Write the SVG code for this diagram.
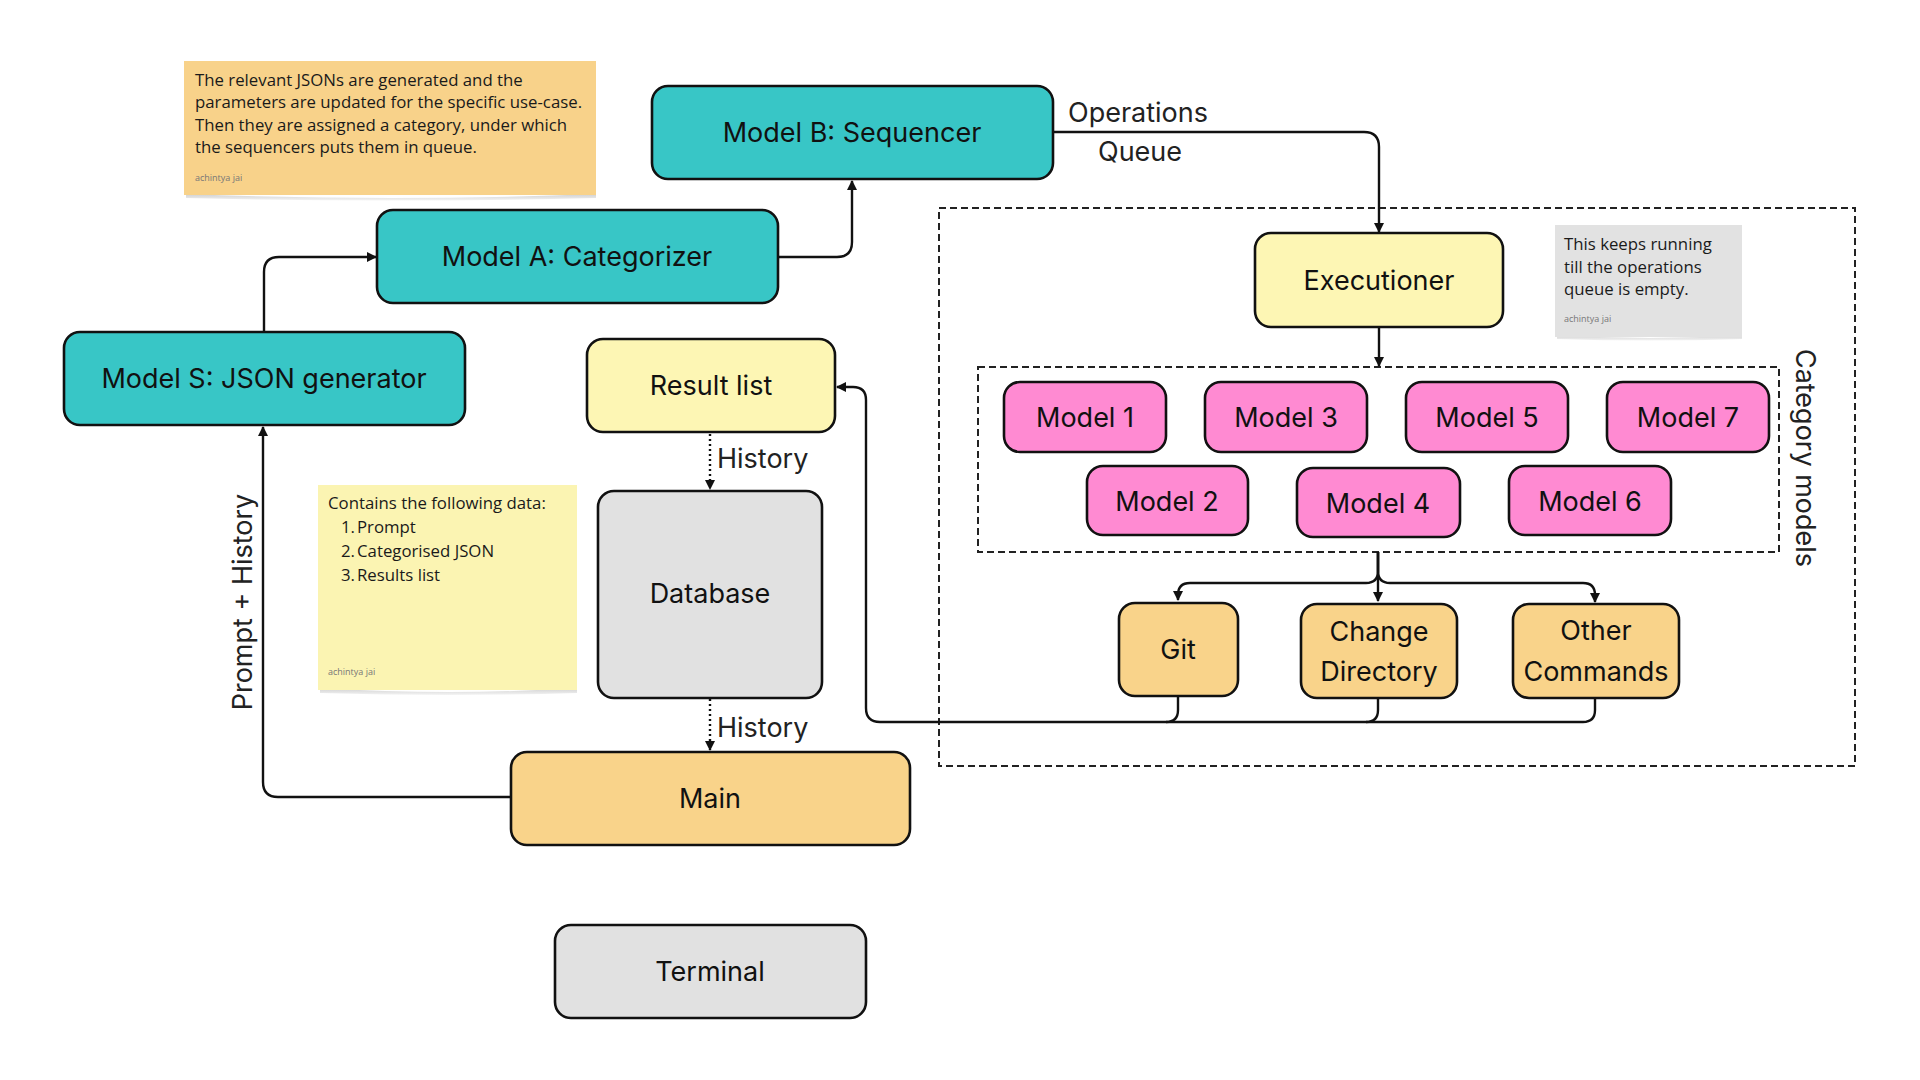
<svg xmlns="http://www.w3.org/2000/svg" width="1920" height="1080" viewBox="0 0 1920 1080">
  <style>
    .node { stroke: #111; stroke-width: 2.6; }
    .teal { fill: #38C6C6; }
    .yel { fill: #FDF6B4; }
    .org { fill: #F9D38A; }
    .pink { fill: #FF8AD2; }
    .grey { fill: #E1E1E1; }
    .lbl { font-family: Inter, "DejaVu Sans", sans-serif; font-size: 27px; fill: #111; text-anchor: middle; }
    .edge-lbl { font-family: Inter, "DejaVu Sans", sans-serif; font-size: 27px; fill: #222; }
    .note { font-family: "Open Sans", "Noto Sans", sans-serif; font-size: 16.8px; fill: #1a1a1a; }
    .sig { font-family: "Open Sans", "Noto Sans", sans-serif; font-size: 9px; fill: #777; }
    .wire { fill: none; stroke: #111; stroke-width: 2.4; }
    .dot { fill: none; stroke: #111; stroke-width: 2.4; stroke-dasharray: 2 3; }
    .frame { fill: none; stroke: #222; stroke-width: 2; stroke-dasharray: 7 4; }
  </style>
  <defs>
    <marker id="arrow" viewBox="0 0 10 10" refX="9" refY="5" markerWidth="10" markerHeight="10" markerUnits="userSpaceOnUse" orient="auto">
      <path d="M0,0 L10,5 L0,10 Z" fill="#111"/>
    </marker>
    <linearGradient id="curl" x1="0" y1="0" x2="0" y2="1">
      <stop offset="0" stop-color="#cfcfcf"/>
      <stop offset="1" stop-color="#f4f4f4"/>
    </linearGradient>
  </defs>

  <rect width="1920" height="1080" fill="#fff"/>

  <!-- dashed group frames -->
  <g id="frames">
    <rect class="frame" x="939" y="208" width="916" height="558"/>
    <rect class="frame" x="978" y="367" width="801" height="185"/>
    <text class="edge-lbl" transform="translate(1796,458) rotate(90)" text-anchor="middle">Category models</text>
  </g>

  <!-- sticky notes -->
  <g id="note-json">
    <path d="M186,194 Q390,202 596,194 L596,198 Q390,203 186,198 Z" fill="url(#curl)"/>
    <rect x="184" y="61" width="412" height="134" fill="#F8D28A"/>
    <text class="note" x="195" y="86">The relevant JSONs are generated and the</text>
    <text class="note" x="195" y="108">parameters are updated for the specific use-case.</text>
    <text class="note" x="195" y="131">Then they are assigned a category, under which</text>
    <text class="note" x="195" y="153">the sequencers puts them in queue.</text>
    <text class="sig" x="195" y="181">achintya jai</text>
  </g>

  <g id="note-data">
    <path d="M320,688 Q450,696 577,688 L577,693 Q450,697 320,693 Z" fill="url(#curl)"/>
    <rect x="318" y="485" width="259" height="205" fill="#FBF4B2"/>
    <text class="note" x="328" y="509">Contains the following data:</text>
    <text class="note" x="341" y="533">1.</text><text class="note" x="357" y="533">Prompt</text>
    <text class="note" x="341" y="557">2.</text><text class="note" x="357" y="557">Categorised JSON</text>
    <text class="note" x="341" y="581">3.</text><text class="note" x="357" y="581">Results list</text>
    <text class="sig" x="328" y="675">achintya jai</text>
  </g>

  <g id="note-loop">
    <path d="M1557,335 Q1650,341 1742,335 L1742,339 Q1650,342 1557,339 Z" fill="url(#curl)"/>
    <rect x="1555" y="225" width="187" height="112" fill="#E2E2E2"/>
    <text class="note" x="1564" y="250">This keeps running</text>
    <text class="note" x="1564" y="273">till the operations</text>
    <text class="note" x="1564" y="295">queue is empty.</text>
    <text class="sig" x="1564" y="322">achintya jai</text>
  </g>

  <!-- connectors -->
  <g id="connectors">
    <path class="wire" d="M511,797 H278 Q263,797 263,782 V427" marker-end="url(#arrow)"/>
    <path class="wire" d="M264,332 V272 Q264,257 279,257 H376" marker-end="url(#arrow)"/>
    <path class="wire" d="M778,257 H837 Q852,257 852,242 V181" marker-end="url(#arrow)"/>
    <path class="wire" d="M1053,132 H1364 Q1379,132 1379,147 V232" marker-end="url(#arrow)"/>
    <path class="wire" d="M1379,327 V366" marker-end="url(#arrow)"/>
    <path class="wire" d="M1378,552 V601" marker-end="url(#arrow)"/>
    <path class="wire" d="M1378,552 V571 Q1378,583 1366,583 H1190 Q1178,583 1178,595 V600" marker-end="url(#arrow)"/>
    <path class="wire" d="M1378,552 V571 Q1378,583 1390,583 H1583 Q1595,583 1595,595 V602" marker-end="url(#arrow)"/>
    <path class="wire" d="M1595,698 V710 Q1595,722 1583,722 H880 Q866,722 866,708 V400 Q866,387 853,387 H837" marker-end="url(#arrow)"/>
    <path class="wire" d="M1378,698 V710 Q1378,722 1366,722"/>
    <path class="wire" d="M1178,696 V710 Q1178,722 1166,722"/>
    <path class="dot" d="M710,434 V489" marker-end="url(#arrow)"/>
    <path class="dot" d="M710,699 V750" marker-end="url(#arrow)"/>
    <text class="edge-lbl" x="1068" y="122">Operations</text>
    <text class="edge-lbl" x="1098" y="161">Queue</text>
    <text class="edge-lbl" x="717" y="468">History</text>
    <text class="edge-lbl" x="717" y="737">History</text>
    <text class="edge-lbl" transform="translate(252,602) rotate(-90)" text-anchor="middle">Prompt + History</text>
  </g>

  <!-- nodes -->
  <g id="model-b">
    <rect class="node teal" x="652" y="86" width="401" height="93" rx="16"/>
    <text class="lbl" x="852" y="142">Model B: Sequencer</text>
  </g>
  <g id="model-a">
    <rect class="node teal" x="377" y="210" width="401" height="93" rx="16"/>
    <text class="lbl" x="577" y="266">Model A: Categorizer</text>
  </g>
  <g id="model-s">
    <rect class="node teal" x="64" y="332" width="401" height="93" rx="16"/>
    <text class="lbl" x="264" y="388">Model S: JSON generator</text>
  </g>
  <g id="result-list">
    <rect class="node yel" x="587" y="339" width="248" height="93" rx="16"/>
    <text class="lbl" x="711" y="395">Result list</text>
  </g>
  <g id="database">
    <rect class="node grey" x="598" y="491" width="224" height="207" rx="16"/>
    <text class="lbl" x="710" y="603">Database</text>
  </g>
  <g id="main">
    <rect class="node org" x="511" y="752" width="399" height="93" rx="16"/>
    <text class="lbl" x="710" y="808">Main</text>
  </g>
  <g id="terminal">
    <rect class="node grey" x="555" y="925" width="311" height="93" rx="16"/>
    <text class="lbl" x="710" y="981">Terminal</text>
  </g>
  <g id="executioner">
    <rect class="node yel" x="1255" y="233" width="248" height="94" rx="16"/>
    <text class="lbl" x="1379" y="290">Executioner</text>
  </g>
  <g id="model-1">
    <rect class="node pink" x="1004" y="382" width="162" height="70" rx="16"/>
    <text class="lbl" x="1085" y="427">Model 1</text>
  </g>
  <g id="model-3">
    <rect class="node pink" x="1205" y="382" width="162" height="70" rx="16"/>
    <text class="lbl" x="1286" y="427">Model 3</text>
  </g>
  <g id="model-5">
    <rect class="node pink" x="1406" y="382" width="162" height="70" rx="16"/>
    <text class="lbl" x="1487" y="427">Model 5</text>
  </g>
  <g id="model-7">
    <rect class="node pink" x="1607" y="382" width="162" height="70" rx="16"/>
    <text class="lbl" x="1688" y="427">Model 7</text>
  </g>
  <g id="model-2">
    <rect class="node pink" x="1087" y="466" width="161" height="69" rx="16"/>
    <text class="lbl" x="1167" y="511">Model 2</text>
  </g>
  <g id="model-4">
    <rect class="node pink" x="1297" y="468" width="163" height="69" rx="16"/>
    <text class="lbl" x="1378" y="513">Model 4</text>
  </g>
  <g id="model-6">
    <rect class="node pink" x="1509" y="466" width="162" height="69" rx="16"/>
    <text class="lbl" x="1590" y="511">Model 6</text>
  </g>
  <g id="git">
    <rect class="node org" x="1119" y="603" width="119" height="93" rx="16"/>
    <text class="lbl" x="1178" y="659">Git</text>
  </g>
  <g id="change-directory">
    <rect class="node org" x="1301" y="604" width="156" height="94" rx="16"/>
    <text class="lbl" x="1379" y="641">Change</text>
    <text class="lbl" x="1379" y="681">Directory</text>
  </g>
  <g id="other-commands">
    <rect class="node org" x="1513" y="604" width="166" height="94" rx="16"/>
    <text class="lbl" x="1596" y="640">Other</text>
    <text class="lbl" x="1596" y="681">Commands</text>
  </g>
</svg>
